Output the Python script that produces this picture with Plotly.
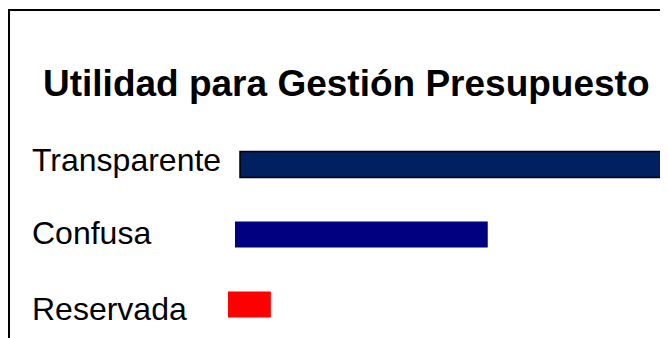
import plotly.graph_objects as go

# ---- data ----
categories = ["Transparente", "Confusa", "Reservada"]
values = [59, 35.4, 6]
bar_colors = ["#002060", "#000080", "#FF0000"]
title_text = "Utilidad para Gestión Presupuesto"

# ---- layout / styling (not data) ----
# The page body has an 8px default margin, so the figure is 8px smaller than the window.
W, H = 660, 330
bar_offsets = [1.68, 0.98, 0.0]      # per-row horizontal start offset (skewed look in original)
outline_widths = [1.5, 0, 0]
label_yshift = [4.5, 1.5, -4]

fig = go.Figure()
fig.add_trace(go.Bar(
    y=categories,
    x=values,
    base=bar_offsets,
    orientation="h",
    width=0.37,
    marker=dict(color=bar_colors, line=dict(color="#000000", width=outline_widths)),
    hoverinfo="skip",
))

for cat, ys in zip(categories, label_yshift):
    fig.add_annotation(
        x=22 / W, xref="paper", xanchor="left",
        y=cat, yref="y", yanchor="middle", yshift=ys,
        text=cat, showarrow=False,
        font=dict(family="Liberation Sans, Arial", size=32, color="#000000"),
    )

fig.add_annotation(
    x=33 / W, xref="paper", xanchor="left",
    y=1 - 75 / H, yref="paper", yanchor="middle",
    text="<b>" + title_text + "</b>", showarrow=False,
    font=dict(family="Liberation Sans, Arial", size=37, color="#000000"),
)

# outer frame (top and left visible; right/bottom run off the image)
fig.add_shape(
    type="rect", xref="paper", yref="paper",
    x0=1 / W, x1=1.05, y0=-0.05, y1=1 - 2 / H,
    line=dict(color="#000000", width=2), fillcolor="rgba(0,0,0,0)", layer="above",
)

px_per_unit = 7.14
x0 = -220 / px_per_unit
x1 = x0 + W / px_per_unit
row_px = 70
first_center = 156.5
y_top = -first_center / row_px
y_bot = (H - first_center) / row_px

fig.update_layout(
    width=W, height=H,
    margin=dict(l=0, r=0, t=0, b=0),
    paper_bgcolor="white", plot_bgcolor="white",
    showlegend=False,
    xaxis=dict(range=[x0, x1], visible=False, fixedrange=True),
    yaxis=dict(range=[y_bot, y_top], visible=False, fixedrange=True,
               categoryorder="array", categoryarray=categories),
)

fig.write_html("out.html")
